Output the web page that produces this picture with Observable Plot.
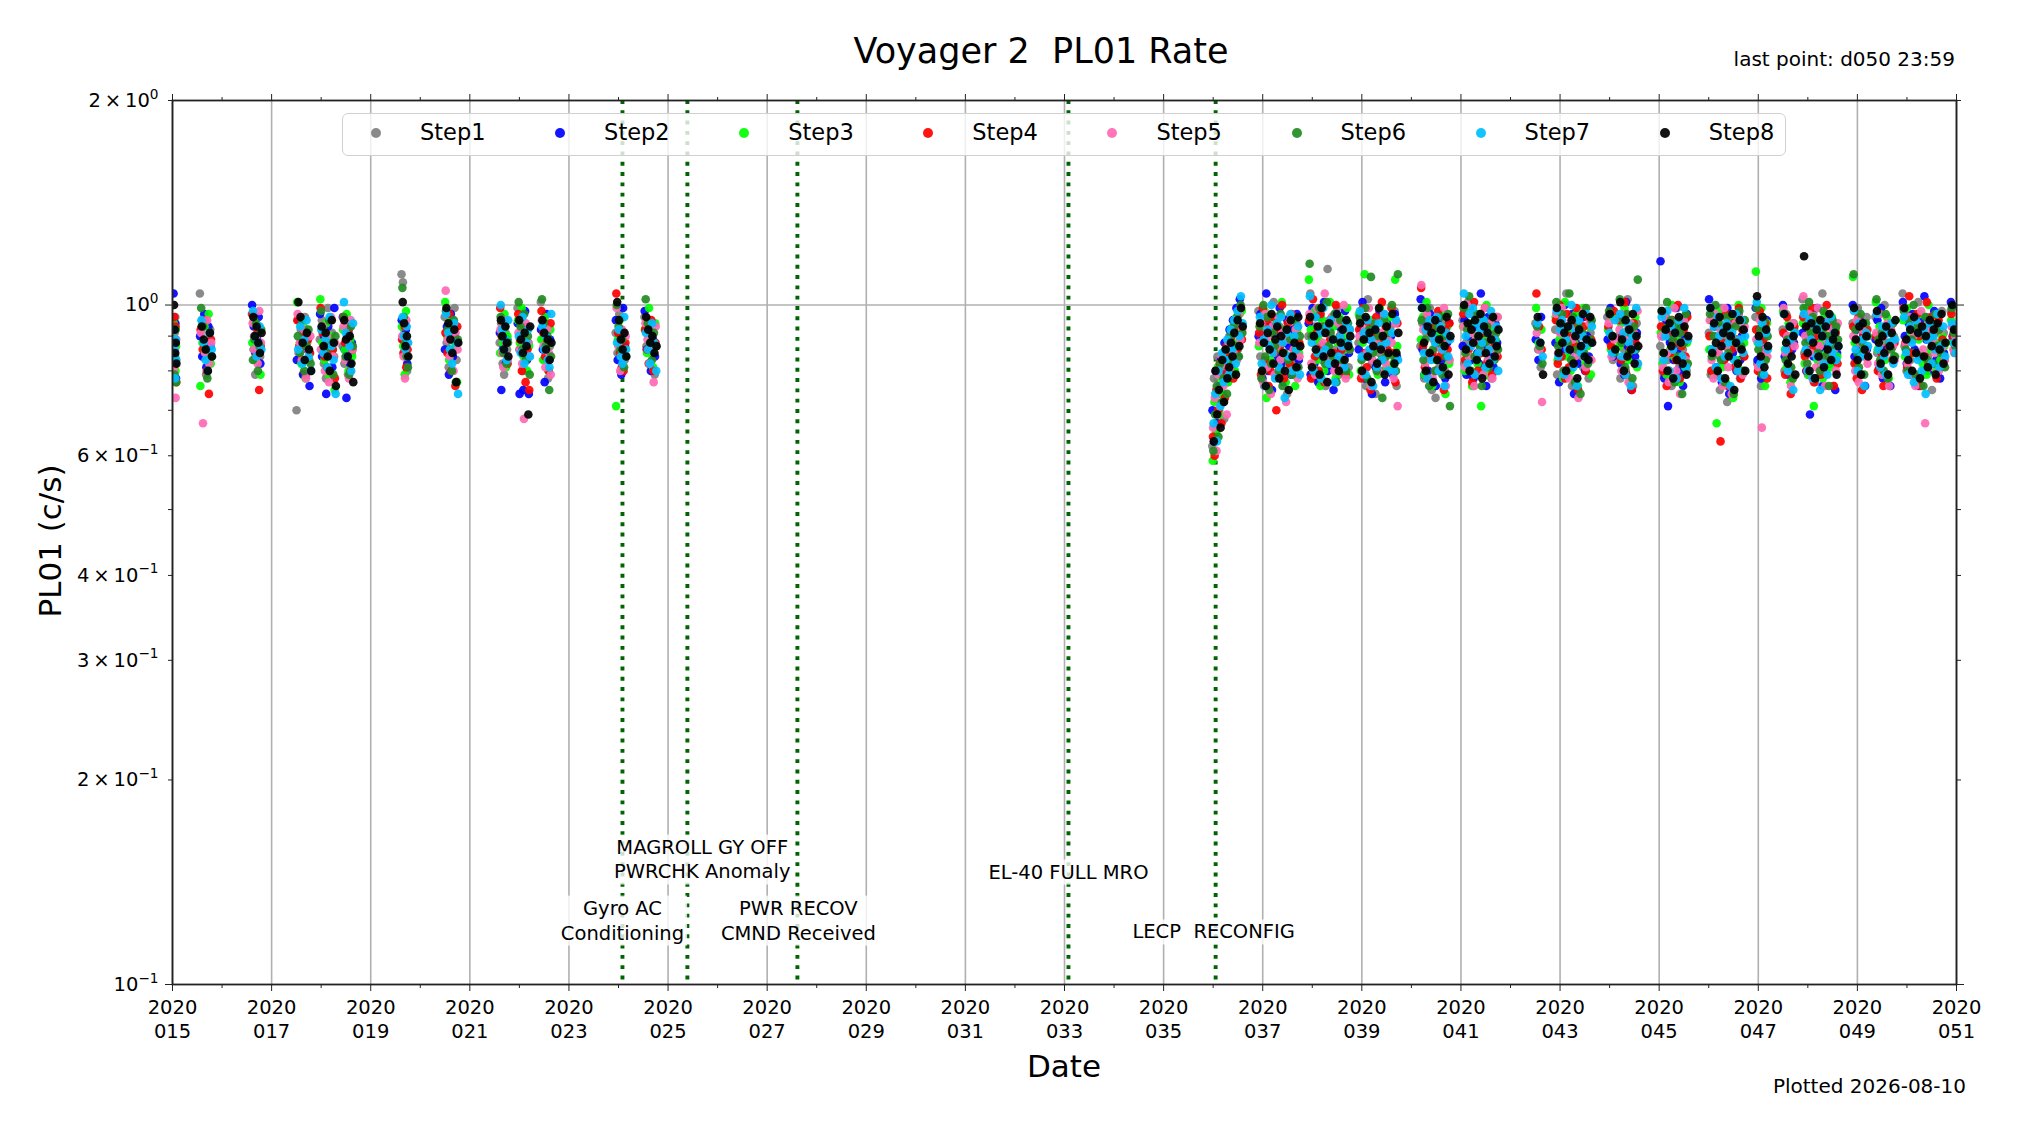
<!DOCTYPE html>
<html>
<head>
<meta charset="utf-8">
<script src="https://cdn.jsdelivr.net/npm/d3@7"></script>
<script src="https://cdn.jsdelivr.net/npm/@observablehq/plot@0.6"></script>
<style>
  body { margin: 0; background: #fff; font-family: "DejaVu Sans", sans-serif; }
  #wrap { position: relative; width: 2019px; height: 1133px; overflow: hidden; background: #fff; }
  .abs { position: absolute; white-space: pre; color: #000; line-height: 1; }
</style>
</head>
<body>
<div id="wrap"></div>
<script>
// ---------------- data ----------------
const steps = ["Step1", "Step2", "Step3", "Step4", "Step5", "Step6", "Step7", "Step8"];
const stepColors = ["#808080", "#0000ff", "#00ff00", "#ff0000", "#ff69b4", "#228b22", "#00bfff", "#000000"];

// tracking passes (day of year 2020)
const passStart = [15.02, 15.55, 16.6, 17.5, 17.97, 18.43, 19.62, 20.49, 21.6, 21.96, 22.43, 23.94, 24.52,
  35.98, 36.91, 37.92, 38.93, 39.58, 40.18, 41.03, 42.5, 42.9, 43.95, 44.18, 45.02, 46.0, 46.94, 47.49, 47.89, 48.9, 49.36, 49.91, 50.88];
const passEnd = [15.08, 15.8, 16.8, 17.8, 18.3, 18.65, 19.76, 20.77, 21.78, 22.22, 22.65, 24.16, 24.77,
  36.6, 37.76, 38.77, 39.54, 39.74, 40.79, 41.76, 42.66, 43.65, 44.12, 44.58, 45.59, 46.74, 47.2, 47.75, 48.62, 49.22, 49.77, 50.78, 50.99];

// PL01 rate per step, per pass, in units of 0.01 c/s
const step1 = [[86,80,91,96,83],[104,95,84,79,88,92],[97,86,79,90,93,84],[70,85,92,79,96,88,83],[89,95,82,78,99,86,91,84],[87,82,93,79,90,85],[111,108,92,85,80],[96,88,81,92,85,99,83],[88,94,82,79,91,86],[99,86,91,80,84,93,88],[101,89,83,94,78,87],[91,85,97,80,88,83],[96,87,82,91,85,79],
  [62,78,66,84,70,74,81,68,86,77,90,83,88,80,94,86,97,91],
  [98,84,91,76,88,95,82,87,101,79,86,93,80,92,89,74,96,84,90,83,94,81],
  [90,104,78,93,80,88,97,83,91,76,113,95,82,89,86,99,79,92,87,84,94,81],
  [88,95,79,91,76,102,84,82,93,74,89,85,97,80,90,86],
  [93,80,98,76],
  [87,94,78,91,84,99,75,89,73,92,81,86,95,80,90,83],
  [95,82,88,101,79,91,76,93,84,89,97,80,85,90,83,94,78,87,92,86],
  [94,86,81],
  [92,79,99,87,84,93,104,80,90,76,96,88,83,94,86,81,97,89,78,91],
  [96,88,83],
  [90,78,95,86,80,102,84,92,76,88,94],
  [87,93,79,96,83,89,76,92,84,99,81,90,86,95,80],
  [91,79,97,86,80,93,75,99,83,89,72,92,85,95,81,87,96,78,90,84],
  [96,82,90,76,88,93,84],
  [92,80,97,85,89,78,94],
  [102,85,94,79,91,86,97,77,89,93,82,104,87,80,95,84,90,76,92,88],
  [94,82,88,99,79,85,91,86,96],
  [96,85,80,91,86,100,88,78,93,83,90],
  [104,87,80,97,83,89,94,78,101,85,92,80,96,84,90,75,88,93,82,86,98,91],
  [98,89,85]];
const step2 = [[104,89,82,94,78],[90,84,97,81,93,87],[100,93,85,89,96,82],[83,95,88,79,91,86,76],[97,84,90,74,93,87,81,99],[96,86,73,91,82,88],[95,89,85,92,82],[86,93,79,97,84,90,88],[91,75,86,95,82,89],[94,74,87,75,98,83,74],[92,86,77,97,83,89],[95,83,90,79,99,87],[98,86,93,80,89,84],
  [70,63,80,67,76,83,72,88,79,85,92,81,95,87,99,84,102,93],
  [90,97,78,88,104,80,93,75,86,91,84,99,82,77,88,95,87,79,92,85,97,83],
  [94,79,99,82,90,77,96,84,101,87,80,92,89,75,97,83,93,86,81,98,88,85],
  [86,92,101,78,95,84,89,74,93,81,87,98,83,90,77,94],
  [90,79,97,84],
  [102,86,79,93,80,97,84,91,76,95,87,83,90,78,88,94],
  [87,95,79,90,99,83,78,93,85,82,104,86,91,76,96,84,89,81,94,88],
  [89,83,96],
  [88,95,77,91,86,100,79,93,85,97,74,89,82,92,87,96,80,90,84,94],
  [89,99,84],
  [96,82,90,79,101,87,93,75,88,84,91],
  [116,90,78,95,71,88,92,83,99,86,80,93,76,89,97],
  [102,86,79,93,81,96,84,77,91,87,99,74,94,85,88,80,97,83,90,92],
  [99,83,92,78,90,86,95],
  [100,84,90,79,93,86,88],
  [91,97,80,89,69,95,84,78,99,86,93,76,90,87,96,82,88,92,75,85],
  [100,84,92,80,95,87,90,76,86],
  [89,95,81,99,78,91,86,93,76,88,84],
  [101,90,82,94,79,97,86,92,76,95,84,103,89,80,91,87,98,83,93,78,88,85],
  [101,90,86]];
const step3 = [[94,84,89,80,87],[76,88,93,85,97,82],[88,95,83,91,86,79],[101,87,82,93,78,89,85],[102,88,83,94,79,90,86,75],[92,86,97,80,89,84],[93,87,79,98,84],[101,90,83,95,86,88,77],[85,92,88,97,81,90],[95,88,99,84,91,80,87],[89,83,96,87,80,92],[71,89,95,84,91,86],[92,85,99,88,81,94],
  [59,72,65,81,69,78,74,85,82,77,89,84,93,80,96,88,91,98],
  [87,94,80,98,73,91,83,96,88,79,93,86,101,84,77,90,82,95,89,76,92,85],
  [109,92,81,98,83,89,76,95,80,91,87,101,84,93,78,88,96,82,90,86,99,79],
  [97,80,88,111,84,92,76,95,86,91,79,99,83,89,94,81],
  [96,82,109,87],
  [89,96,79,101,85,92,76,94,83,90,80,97,87,74,93,82],
  [93,80,99,84,91,76,88,95,82,97,71,90,85,100,79,87,93,83,89,96],
  [99,88,92],
  [96,83,89,93,78,101,84,91,80,95,88,97,76,90,85,99,82,87,93,79],
  [92,86,96],
  [87,94,80,99,90,83,77,92,86,96,81],
  [91,82,97,79,93,86,100,84,90,95,77,87,92,81,88],
  [86,95,79,90,67,98,84,81,93,77,91,87,96,73,89,83,100,80,92,88],
  [112,88,80,99,91,76,94],
  [98,86,81,94,77,90,92],
  [94,82,99,79,91,86,71,95,83,93,88,78,97,85,90,81,96,87,92,84],
  [110,88,82,95,79,89,86,92,84],
  [101,86,93,80,90,83,96,78,91,87,84],
  [95,84,99,80,91,85,93,77,89,97,82,92,79,100,86,94,81,88,96,83,90,87],
  [95,88,92]];
const step4 = [[82,96,88,93,77],[92,86,95,80,74,89],[97,90,84,92,75,87],[95,87,83,91,79,89,85],[99,91,84,88,80,95,86,78],[96,88,84,92,80,86],[89,85,93,81,86],[91,85,97,80,89,76,93],[99,90,85,94,88,82],[97,89,80,93,77,86,75],[98,91,84,88,80,94],[104,91,85,81,80,88],[92,86,82,95,80,88],
  [64,60,75,70,82,67,79,73,87,81,84,90,78,95,86,92,99,89],
  [91,79,99,83,94,76,80,96,85,70,92,87,100,78,89,94,82,97,86,81,93,88],
  [95,78,102,84,91,80,97,87,77,93,83,89,96,85,100,81,90,86,94,79,88,92],
  [92,78,99,85,81,94,75,90,87,96,80,89,101,83,93,86],
  [99,85,77,94],
  [106,87,81,96,78,91,85,93,80,98,84,89,75,92,86,94],
  [97,83,100,86,93,77,101,88,80,95,85,91,99,82,94,87,79,90,96,84],
  [104,93,86],
  [95,82,100,84,92,78,97,81,90,94,87,99,75,91,86,93,80,96,83,89],
  [93,87,98],
  [95,83,90,101,79,92,86,75,94,88,82],
  [93,80,97,76,91,85,95,88,83,100,78,87,92,84,96],
  [90,80,96,85,79,93,63,88,83,97,76,91,86,94,81,89,99,78,92,84],
  [92,80,98,85,89,94,78],
  [91,79,96,86,74,89,93],
  [96,84,80,93,86,99,77,90,87,95,79,92,83,100,85,88,94,76,91,82],
  [93,82,78,96,88,75,90,84,92],
  [90,80,97,85,76,93,79,87,92,83,88],
  [99,88,81,103,85,94,79,97,90,76,93,84,101,82,96,87,91,78,95,86,89,83],
  [97,90,86]];
const step5 = [[80,92,86,73,89],[91,67,85,95,82,88],[94,86,90,82,98,88],[97,88,83,92,78,86,90],[86,93,80,90,77,96,84,88],[93,83,89,78,95,86],[90,84,78,95,88],[105,89,84,93,80,91,86],[92,85,81,95,88,83],[91,86,82,68,94,88,84],[95,87,81,92,85,79],[99,87,80,92,84,90],[94,89,82,87,77,93],
  [66,73,61,79,71,84,76,82,69,88,80,91,85,94,83,97,89,92],
  [88,94,77,97,81,90,74,93,79,87,96,83,91,85,72,89,95,80,86,92,78,84],
  [97,82,90,79,99,85,93,88,104,77,91,84,96,80,89,94,82,87,100,78,92,86],
  [90,96,79,92,85,99,76,83,94,88,80,91,86,97,82,89],
  [88,78,94,71],
  [107,92,82,97,84,90,78,95,87,80,93,86,99,76,89,83],
  [93,81,100,84,91,97,76,89,95,86,92,79,99,88,83,94,78,90,85,96],
  [91,86,72],
  [97,85,91,99,80,93,87,78,95,89,84,92,73,90,86,98,81,88,94,83],
  [94,84,89],
  [92,80,97,84,89,77,94,86,91,82,98],
  [90,81,96,85,77,93,86,99,80,91,74,88,95,83,89],
  [95,83,78,97,90,85,92,76,99,87,81,91,74,89,94,82,96,86,79,93],
  [89,81,95,66,91,86,84],
  [99,85,90,80,76,94,87],
  [103,90,82,97,85,78,93,81,99,87,83,91,76,89,95,84,92,86,80,94],
  [90,80,95,77,88,92,84,86,82],
  [91,82,97,79,90,85,94,76,92,87,83],
  [99,88,82,96,79,90,76,94,84,98,86,67,91,81,93,89,85,97,80,92,87,83],
  [93,86,90]];
const step6 = [[88,79,84,92,77],[99,93,86,78,91,84],[83,89,94,80,87,92],[90,85,95,80,87,92,82],[98,92,86,81,95,88,79,90],[96,84,90,79,93,87],[106,96,88,84,81],[98,92,86,80,95,77,89],[96,90,85,93,82,88],[101,93,86,97,83,90,79],[102,94,87,90,75,84],[100,93,86,89,81,84],[102,94,88,83,91,87],
  [61,69,76,64,82,72,78,86,74,83,90,79,93,87,96,84,100,91],
  [93,78,100,84,96,75,82,91,87,94,80,97,76,85,92,83,89,79,95,86,81,90],
  [115,90,80,96,85,99,78,93,82,101,87,91,84,97,77,89,95,83,88,80,94,86],
  [96,83,89,99,78,92,110,85,94,80,90,87,73,95,84,91],
  [100,84,80,111],
  [95,83,89,99,76,91,86,80,93,88,96,79,90,84,97,71],
  [99,85,92,103,80,94,84,97,90,87,76,95,88,93,81,89,96,83,91,86],
  [93,87,82],
  [101,87,94,97,80,92,88,104,83,96,77,86,93,74,91,85,99,82,89,95],
  [98,90,85],
  [102,88,95,81,97,85,91,78,93,86,109],
  [98,85,92,101,80,95,89,77,93,84,91,74,88,97,82],
  [97,84,90,100,80,94,83,91,77,96,85,92,89,74,93,82,98,87,80,95],
  [99,86,92,79,95,83,90],
  [97,83,89,93,81,78,91],
  [99,88,82,101,91,96,78,94,85,80,92,98,84,90,76,87,95,83,93,89],
  [111,92,85,81,97,88,79,94,90],
  [102,89,83,91,80,97,78,88,86,94,84],
  [98,86,80,95,89,100,79,93,84,91,76,96,83,94,90,82,97,87,92,85,88,81],
  [99,91,87]];
const step7 = [[92,86,78,89,83],[95,88,83,80,91,86],[98,90,84,88,93,86],[86,93,82,89,95,84,80],[92,85,89,81,96,87,83,74],[101,91,84,87,80,94],[96,90,86,93,88],[97,91,86,82,94,88,74],[100,92,86,89,83,95],[90,85,96,82,88,92,84],[93,86,90,83,81,97],[88,92,84,82,96,86],[91,86,82,94,88,80],
  [67,74,63,80,71,85,77,83,89,79,92,86,95,82,98,90,103,94],
  [96,82,89,76,92,87,100,85,78,94,81,96,88,73,91,84,97,80,90,86,93,79],
  [103,88,80,96,85,91,78,99,86,93,82,95,89,77,97,84,90,87,81,94,88,92],
  [98,84,91,79,95,86,89,76,92,81,94,87,83,97,88,80],
  [91,80,95,83],
  [99,85,92,78,95,83,90,88,96,80,93,86,76,91,84,89],
  [104,90,82,97,87,99,79,94,85,92,88,95,81,91,86,98,83,89,93,80],
  [94,88,84],
  [98,84,92,95,79,89,86,93,100,81,91,76,95,85,90,87,97,83,88,93],
  [91,85,95],
  [97,84,91,79,94,88,76,90,86,99,82],
  [96,83,90,98,80,93,86,91,78,95,88,84,99,81,89],
  [99,86,93,81,96,90,78,92,84,94,88,76,91,83,97,80,89,95,85,90],
  [101,88,82,94,79,91,86],
  [97,86,80,93,89,75,91],
  [97,86,80,95,89,78,93,84,92,75,90,82,94,79,88,96,85,91,83,87],
  [98,86,80,94,84,89,76,91,87],
  [97,86,81,93,84,79,91,88,94,82,89],
  [96,85,79,93,88,77,95,83,91,80,92,74,89,94,82,90,86,97,81,87,93,84],
  [94,88,85]];
const step8 = [[100,92,85,88,82],[93,89,86,80,91,84],[96,90,93,88,85,91],[101,96,88,83,91,86,80],[93,87,91,84,80,95,88,76],[95,89,84,90,82,77],[101,94,87,90,84],[99,94,89,85,92,77,88],[95,90,86,93,88,84],[95,89,85,91,87,69,93],[95,91,86,89,83,88],[101,95,89,86,91,84],[96,92,88,90,85,87],
  [63,80,69,75,66,83,72,86,78,81,88,84,91,79,95,87,99,93],
  [94,80,88,76,91,86,97,82,89,93,78,90,85,80,92,75,95,84,88,81,96,87],
  [96,81,90,86,93,79,99,84,91,77,94,85,89,82,97,80,88,92,83,95,87,90],
  [94,80,89,96,84,91,77,87,92,82,99,86,90,79,93,85],
  [97,82,85,91],
  [99,88,80,93,85,91,77,95,83,89,92,81,87,96,79,90],
  [100,86,94,80,92,88,95,83,90,97,78,93,85,91,82,89,96,84,87,92],
  [96,88,79],
  [99,85,94,88,91,80,93,86,95,82,90,78,92,87,97,84,89,83,96,88],
  [97,90,86],
  [101,89,80,95,84,92,86,97,82,90,87],
  [98,85,92,80,94,87,78,91,83,96,88,82,93,79,90],
  [99,85,94,88,80,96,87,91,78,93,84,90,97,75,88,82,95,86,92,80],
  [103,90,84,96,81,92,87],
  [97,88,82,93,84,90,79],
  [118,93,85,80,94,88,78,92,84,95,90,81,93,86,97,83,89,91,79,87],
  [99,89,83,93,79,94,86,90,84],
  [98,88,82,90,85,93,79,87,91,83,95],
  [99,89,83,92,80,96,85,91,78,93,84,90,81,95,87,92,79,94,86,97,82,88],
  [100,92,88]];

// events (dotted lines) and annotation labels
const eventDays = [24.08, 25.39, 27.61, 33.08, 36.05];
const annotText = ["Gyro AC\nConditioning", "MAGROLL GY OFF\nPWRCHK Anomaly", "PWR RECOV\nCMND Received", "EL-40 FULL MRO", "LECP  RECONFIG"];
const annotDay = [24.08, 25.69, 27.63, 33.08, 36.01];
const annotRate = [0.1248, 0.1535, 0.1248, 0.1471, 0.1201];

// axis ticks
const xMajor = d3.range(15, 52, 2);
const xMinor = d3.range(16, 51, 2);
const yMajor = [0.1, 1];
const yMinor = [0.2, 0.3, 0.4, 0.5, 0.6, 0.7, 0.8, 0.9, 2];
const yMajorLabels = new Map([[0.1, "10^\u22121"], [1, "10^0"]]);
const yMinorLabels = new Map([[0.2, "2\u2009\u00d7\u200910^\u22121"], [0.3, "3\u2009\u00d7\u200910^\u22121"], [0.4, "4\u2009\u00d7\u200910^\u22121"], [0.6, "6\u2009\u00d7\u200910^\u22121"], [2, "2\u2009\u00d7\u200910^0"]]);

// ---------------- build rows ----------------
const stepValues = [step1, step2, step3, step4, step5, step6, step7, step8];
const rows = [];
stepValues.forEach((passes, k) => {
  passes.forEach((vals, p) => {
    const a = passStart[p], b = passEnd[p], n = vals.length;
    vals.forEach((v, i) => {
      rows.push({ step: steps[k], t: a + (b - a) * (i + (k + 0.5) / 8) / n, v: v / 100 });
    });
  });
});
const annots = annotText.map((s, i) => ({ text: s, day: annotDay[i], rate: annotRate[i] }));

const W = 2019, H = 1133;
const ML = 172, MR = 63, MT = 100, MB = 149;
const gridStyle = { stroke: "#b0b0b0", strokeOpacity: 1, strokeWidth: 1.6 };

const svg = Plot.plot({
  width: W,
  height: H,
  marginLeft: ML,
  marginRight: MR,
  marginTop: MT,
  marginBottom: MB,
  style: { fontFamily: "DejaVu Sans", fontSize: "19.5px", color: "#000", background: "transparent" },
  x: { domain: [15, 51], axis: null, label: null },
  y: { type: "log", domain: [0.1, 2], axis: null, label: null },
  color: { domain: steps, range: stepColors },
  marks: [
    Plot.gridX(xMajor, gridStyle),
    Plot.gridY([1], gridStyle),
    Plot.ruleX(eventDays, { stroke: "#006400", strokeWidth: 3.9, strokeDasharray: "3.9,6.4" }),
    Plot.dot(rows, { x: "t", y: "v", fill: "step", r: 4.3, fillOpacity: 0.92, clip: true }),
    Plot.text(annots, { x: "day", y: "rate", text: "text", fontSize: 19.5, lineHeight: 1.28, fill: "#000" }),
    Plot.frame({ stroke: "#222", strokeWidth: 1.8 }),
    Plot.axisX(xMajor, { anchor: "bottom", tickSize: 7, tickPadding: 5, lineHeight: 1.23, label: null, stroke: "#222",
      tickFormat: d => `2020\n${String(d).padStart(3, "0")}` }),
    Plot.axisX(xMinor, { anchor: "bottom", tickSize: 4, label: null, stroke: "#222", tickFormat: () => "" }),
    Plot.axisX(xMajor, { anchor: "top", tickSize: 7, label: null, stroke: "#222", tickFormat: () => "" }),
    Plot.axisX(xMinor, { anchor: "top", tickSize: 4, label: null, stroke: "#222", tickFormat: () => "" }),
    Plot.axisY(yMajor, { anchor: "left", tickSize: 7, tickPadding: 7, label: null, stroke: "#222", tickFormat: d => yMajorLabels.get(d) }),
    Plot.axisY(yMinor, { anchor: "left", tickSize: 4, tickPadding: 10, label: null, stroke: "#222", tickFormat: d => yMinorLabels.get(d) || "" }),
    Plot.axisY(yMajor, { anchor: "right", tickSize: 7, label: null, stroke: "#222", tickFormat: () => "" }),
    Plot.axisY(yMinor, { anchor: "right", tickSize: 4, label: null, stroke: "#222", tickFormat: () => "" })
  ]
});
svg.style.position = "absolute";
svg.style.left = "0px";
svg.style.top = "0px";

const wrap = document.getElementById("wrap");
wrap.appendChild(svg);

const NS = "http://www.w3.org/2000/svg";

// y tick labels: mantissa × 10 with a raised exponent
svg.querySelectorAll("text").forEach(t => {
  const s = t.textContent;
  if (!s.includes("^") || t.querySelector("tspan")) return;
  const [base, exp] = s.split("^");
  t.textContent = "";
  const b = document.createElementNS(NS, "tspan");
  b.textContent = base;
  const e = document.createElementNS(NS, "tspan");
  e.textContent = exp;
  e.setAttribute("font-size", "0.7em");
  e.setAttribute("dy", "-0.6em");
  t.appendChild(b);
  t.appendChild(e);
});

// semi-transparent white boxes behind the annotation labels
svg.querySelectorAll('g[aria-label="text"] text').forEach(t => {
  const b = t.getBBox();
  const r = document.createElementNS(NS, "rect");
  r.setAttribute("x", b.x - 3);
  r.setAttribute("y", b.y - 1);
  r.setAttribute("width", b.width + 6);
  r.setAttribute("height", b.height + 2);
  r.setAttribute("fill", "white");
  r.setAttribute("fill-opacity", "0.8");
  if (t.getAttribute("transform")) r.setAttribute("transform", t.getAttribute("transform"));
  t.parentNode.insertBefore(r, t);
});

// ---------------- html texts and legend ----------------
function addText(txt, x, y, size, align = "center", rotate = false) {
  const d = document.createElement("div");
  d.className = "abs";
  d.textContent = txt;
  d.style.fontSize = size + "px";
  d.style.left = x + "px";
  d.style.top = y + "px";
  const tx = align === "center" ? "-50%" : align === "right" ? "-100%" : "0";
  d.style.transform = `translate(${tx}, -50%)` + (rotate ? " rotate(-90deg)" : "");
  wrap.appendChild(d);
  return d;
}
addText("Voyager 2  PL01 Rate", 1041, 51, 35);
addText("last point: d050 23:59", 1955, 59, 20, "right");
addText("Date", 1064, 1066, 31);
addText("Plotted 2026-08-10", 1966, 1086, 20, "right");
addText("PL01 (c/s)", 50, 541, 31, "center", true);

const leg = document.createElement("div");
leg.className = "abs";
Object.assign(leg.style, {
  left: "342px", top: "113px", width: "1444px", height: "43px", boxSizing: "border-box",
  border: "1.5px solid #d0d0d0", borderRadius: "6px", background: "rgba(255,255,255,0.8)"
});
wrap.appendChild(leg);
steps.forEach((s, i) => {
  const cx = 376 + i * 184.1;
  const m = document.createElement("div");
  m.className = "abs";
  Object.assign(m.style, {
    left: (cx - 5) + "px", top: (132.5 - 5) + "px", width: "10px", height: "10px",
    borderRadius: "50%", background: stepColors[i], opacity: 0.92
  });
  wrap.appendChild(m);
  addText(s, cx + 44, 132, 22.5, "left");
});
</script>
</body>
</html>
